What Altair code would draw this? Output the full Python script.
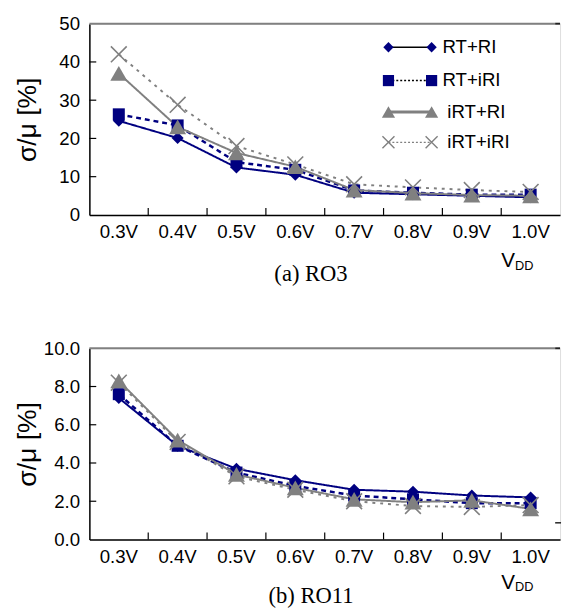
import altair as alt
import pandas as pd

# ---------------- data ----------------
vdd = ["0.3V", "0.4V", "0.5V", "0.6V", "0.7V", "0.8V", "0.9V", "1.0V"]
series = ["RT+RI", "RT+iRI", "iRT+RI", "iRT+iRI"]

ro3_rt_ri = [24.6, 20.1, 12.4, 10.5, 5.8, 5.4, 5.0, 4.6]
ro3_rt_iri = [26.3, 23.4, 13.8, 11.8, 6.4, 5.8, 5.3, 5.3]
ro3_irt_ri = [37.0, 23.0, 16.2, 12.6, 6.5, 5.7, 5.2, 5.0]
ro3_irt_iri = [42.0, 28.8, 18.0, 13.2, 8.0, 7.2, 6.5, 6.0]

ro11_rt_ri = [7.4, 4.9, 3.7, 3.1, 2.6, 2.5, 2.3, 2.2]
ro11_rt_iri = [7.6, 4.9, 3.5, 2.8, 2.3, 2.1, 1.9, 1.9]
ro11_irt_ri = [8.3, 5.2, 3.4, 2.7, 2.1, 1.95, 2.05, 1.6]
ro11_irt_iri = [8.2, 5.1, 3.3, 2.6, 2.0, 1.75, 1.7, 1.8]

ro3_yticks = [0, 10, 20, 30, 40, 50]
ro11_yticks = [0.0, 2.0, 4.0, 6.0, 8.0, 10.0]

# ---------------- styles ----------------
NAVY = "#000080"
GRAY = "#808080"
colors = [NAVY, NAVY, GRAY, GRAY]
dashes = [[1, 0], [5, 4], [1, 0], [3, 5]]
FONT = "Liberation Sans"
SERIF = "Liberation Serif"
W = 480
H = 195
XPATH = "M-1,-1L1,1M-1,1L1,-1"


def long_df(vals):
    rows = []
    for s, v in zip(series, vals):
        for c, y in zip(vdd, v):
            rows.append({"vdd": c, "value": y, "series": s})
    return pd.DataFrame(rows)


def panel(vals, ymax, yticks, yfmt, caption, cap_y, vdd_y, legend=False, side_tick=False):
    df = long_df(vals)
    xaxis = alt.Axis(title=None, labelAngle=0, labelAlign="center", bandPosition=0.5,
                     ticks=False, labelFont=FONT, labelFontSize=19, labelColor="black",
                     labelPadding=8, domainColor="black", domainWidth=1.5, grid=False)
    xscale = alt.Scale(type="band", domain=vdd, paddingInner=0, paddingOuter=0)
    xenc = alt.X("vdd:N", sort=vdd, scale=xscale, axis=xaxis)
    yenc = alt.Y("value:Q", scale=alt.Scale(domain=[0, ymax], nice=False, zero=True),
                 axis=alt.Axis(values=yticks, format=yfmt, title="σ/μ [%]", titleX=-49,
                               titleY=H / 2, titleFont=FONT, titleFontSize=27,
                               titleFontWeight="normal", titleColor="black",
                               labelFont=FONT, labelFontSize=19, labelColor="black",
                               labelOverlap=False, labelPadding=10, ticks=False,
                               domainColor="black", domainWidth=1.5, grid=False))
    base = alt.Chart(df)
    one = alt.Chart(pd.DataFrame({"a": [0]}))
    layers = []
    # top frame line (gray) with a dark end
    layers.append(one.mark_rule(color=GRAY, strokeWidth=2).encode(
        x=alt.value(0), x2=alt.value(W - 5), y=alt.value(0)))
    layers.append(one.mark_rule(color="#222222", strokeWidth=2).encode(
        x=alt.value(W - 5), x2=alt.value(W), y=alt.value(0)))
    if side_tick:
        layers.append(one.mark_rule(color="#222222", strokeWidth=1.5).encode(
            x=alt.value(W - 5), x2=alt.value(W + 1), y=alt.value(H - 17)))
    # inward x ticks at band boundaries
    layers.append(alt.Chart(pd.DataFrame({"vdd": vdd[:-1]})).mark_rule(color="black", strokeWidth=1.2).encode(
        x=alt.X("vdd:N", sort=vdd, scale=xscale, axis=xaxis, bandPosition=1),
        y=alt.value(H - 7), y2=alt.value(H)))
    # inward y ticks
    layers.append(alt.Chart(pd.DataFrame({"value": yticks[1:-1]})).mark_rule(color="black", strokeWidth=1.2).encode(
        y=yenc, x=alt.value(0), x2=alt.value(7)))
    # lines
    for s, c, d, w in zip(series, colors, dashes, [2, 2.5, 2, 2]):
        layers.append(base.transform_filter(alt.datum.series == s).mark_line(
            color=c, strokeDash=d, strokeWidth=w).encode(x=xenc, y=yenc))
    # markers
    layers.append(base.transform_filter(alt.datum.series == "RT+RI").mark_point(
        shape="diamond", filled=True, color=NAVY, size=150, opacity=1).encode(x=xenc, y=yenc))
    layers.append(base.transform_filter(alt.datum.series == "RT+iRI").mark_point(
        shape="square", filled=True, color=NAVY, size=150, opacity=1).encode(x=xenc, y=yenc))
    layers.append(base.transform_filter(alt.datum.series == "iRT+iRI").mark_point(
        shape=XPATH, filled=False, color=GRAY, strokeWidth=1.6, size=260, opacity=1).encode(x=xenc, y=yenc))
    layers.append(base.transform_filter(alt.datum.series == "iRT+RI").mark_point(
        shape="triangle-up", filled=True, color=GRAY, size=300, opacity=1).encode(x=xenc, y=yenc))

    if legend:
        leg_y = [24, 58, 90, 121]
        leg_shape = ["diamond", "square", "triangle-up", XPATH]
        leg_fill = [True, True, True, False]
        leg_size = [110, 130, 180, 150]
        leg_col = [NAVY, NAVY, GRAY, GRAY]
        leg_line = ["black", "black", GRAY, GRAY]
        leg_dash = [[1, 0], [2, 2], [1, 0], [2, 2]]
        leg_w = [1.5, 1.5, 3, 1.2]
        leg_tx = [360, 360, 365, 365]
        for i, s in enumerate(series):
            layers.append(one.mark_rule(color=leg_line[i], strokeDash=leg_dash[i],
                                        strokeWidth=leg_w[i]).encode(
                x=alt.value(305), x2=alt.value(349), y=alt.value(leg_y[i])))
            for xx in (305, 349):
                layers.append(one.mark_point(shape=leg_shape[i], filled=leg_fill[i],
                                             color=leg_col[i], size=leg_size[i], opacity=1,
                                             strokeWidth=1.4).encode(
                    x=alt.value(xx), y=alt.value(leg_y[i])))
            layers.append(one.mark_text(text=s, align="left", baseline="middle", font=FONT,
                                        fontSize=19, color="black").encode(
                x=alt.value(leg_tx[i]), y=alt.value(leg_y[i])))
    # V_DD label
    layers.append(one.mark_text(text="V", align="left", baseline="alphabetic", font=FONT,
                                fontSize=21, color="black").encode(
        x=alt.value(420), y=alt.value(vdd_y)))
    layers.append(one.mark_text(text="DD", align="left", baseline="alphabetic", font=FONT,
                                fontSize=13, color="black").encode(
        x=alt.value(434), y=alt.value(vdd_y + 3)))
    # caption
    layers.append(one.mark_text(text=caption, align="center", baseline="alphabetic", font=SERIF,
                                fontSize=23, color="black").encode(
        x=alt.value(226), y=alt.value(cap_y)))
    return alt.layer(*layers).properties(width=W, height=H)


top = panel([ro3_rt_ri, ro3_rt_iri, ro3_irt_ri, ro3_irt_iri], 50, ro3_yticks, "d",
            "(a) RO3", 262, 248, legend=True)
bottom = panel([ro11_rt_ri, ro11_rt_iri, ro11_irt_ri, ro11_irt_iri], 10, ro11_yticks, ".1f",
               "(b) RO11", 260, 245, side_tick=True)

chart = alt.vconcat(top, bottom, spacing=53).properties(
    padding={"left": 5, "top": 0, "right": 0, "bottom": 0}
).configure_view(stroke=None).configure(font=FONT)

chart.save("out.html", embed_options={"renderer": "svg", "actions": False})
